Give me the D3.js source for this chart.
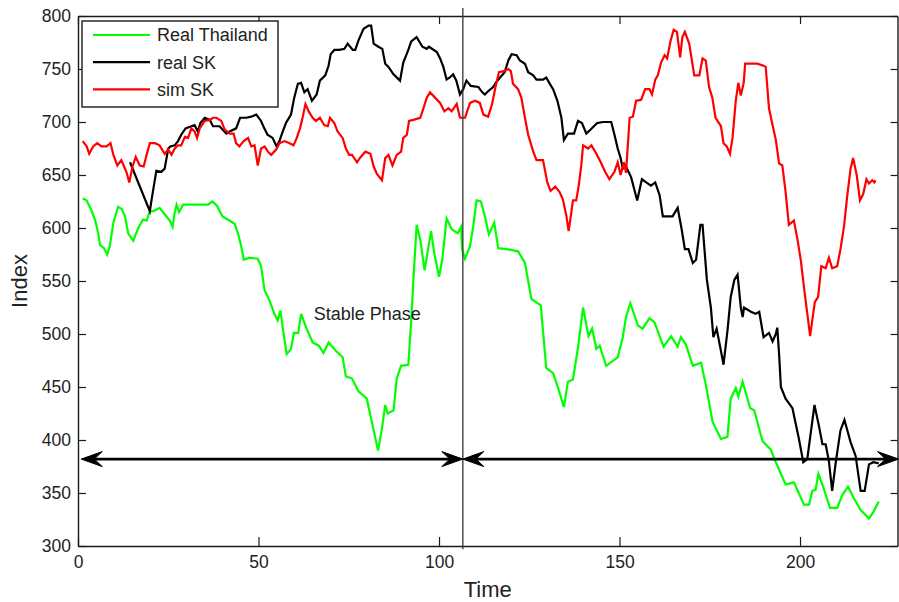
<!DOCTYPE html>
<html>
<head>
<meta charset="utf-8">
<script src="https://cdn.jsdelivr.net/npm/d3@7"></script>
<style>
  html, body { margin: 0; padding: 0; background: #fff; }
  svg { display: block; font-family: "Liberation Sans", Arial, Helvetica, sans-serif; }
</style>
</head>
<body>
<svg id="chart" width="899" height="602"></svg>
<script>
// ---------- data ----------
const seriesNames = ["Real Thailand", "real SK", "sim SK"];
const seriesColors = ["#00ff00", "#000000", "#ff0000"];

const thaiT = [1.3,2.4,3.8,4.7,5.6,6.1,7.2,8.1,8.8,9.8,11.1,12.1,13.0,13.9,15.3,16.7,18.0,19.0,19.9,21.0,22.6,24.0,25.4,26.2,26.8,27.3,28.0,29.1,31.9,33.7,36.0,37.2,38.5,40.0,41.5,43.4,44.3,45.2,45.9,47.5,49.8,50.7,51.7,53.0,54.4,55.3,56.1,56.7,57.8,59.0,59.8,61.0,61.8,63.2,65.0,66.7,68.0,69.4,71.5,73.3,74.2,75.1,75.9,77.7,80.0,81.4,83.1,84.2,85.1,85.8,87.4,88.3,89.5,91.5,92.3,92.9,93.8,94.8,96.0,97.8,98.7,100.0,100.9,102.1,103.5,105.2,106.1,106.4,107.2,108.6,109.5,110.4,111.6,112.7,113.8,115.3,116.4,118.7,121.9,123.8,125.6,128.2,128.8,129.7,131.6,133.0,134.6,135.7,137.1,138.5,139.9,141.4,142.4,143.6,144.5,146.3,149.5,150.9,151.8,153.0,155.1,156.4,158.3,159.7,162.2,164.3,166.1,167.0,168.4,170.3,172.6,173.9,175.8,178.1,179.9,180.8,182.2,182.9,184.1,186.2,187.3,189.6,191.9,193.3,196.0,198.3,201.1,202.5,203.4,204.3,205.1,206.2,208.3,210.3,211.7,213.3,214.9,216.8,219.1,220.3,221.8];
const thaiV = [628,626,616,608,595,584,581,575,583,605,620,618,611,595,588,600,608,607,616,616,619,613,607,601,615,622,615,622,622,622,622,625,621,611,608,604,595,583,570,572,571,564,541,532,519,513,522,506,481,486,501,501,519,506,492,489,482,492,484,478,460,459,458,446,439,417,390,411,433,425,428,458,470,471,513,551,603,589,560,597,576,554,570,609,599,595,601,580,571,583,602,626,625,611,594,605,581,580,578,567,533,527,503,468,463,449,431,455,457,487,525,498,505,486,489,470,478,497,516,529,508,505,515,511,488,498,488,497,490,470,473,452,417,401,403,439,449,441,455,430,428,399,391,379,358,360,339,339,352,353,368,358,336,336,348,356,345,334,326,332,342];

const skT = [14.4,19.9,20.4,21.7,23.1,24.0,25.0,25.6,26.8,27.7,28.6,29.8,31.4,32.3,33.2,33.9,35.1,36.5,37.4,39.2,41.1,42.0,43.8,44.9,46.6,48.0,49.4,50.7,51.6,52.5,53.9,55.0,55.8,56.5,57.6,59.0,59.9,60.9,61.8,62.7,63.6,64.8,66.1,67.0,68.5,69.4,70.0,71.0,72.4,73.8,74.7,76.1,76.8,77.7,79.1,80.5,81.2,81.9,83.2,84.3,85.1,86.0,87.4,89.2,90.1,91.5,92.3,93.8,95.4,96.6,97.2,99.4,100.3,101.2,102.1,103.0,103.9,104.8,105.8,106.7,107.6,108.8,110.9,112.0,112.7,113.6,115.0,115.7,116.9,118.2,119.2,120.1,121.5,122.4,123.8,124.7,126.1,127.0,128.8,129.7,130.7,131.6,132.8,133.9,134.6,135.7,137.4,138.5,139.6,140.8,142.0,143.8,145.4,147.7,148.6,149.5,150.3,150.9,151.8,153.2,154.9,156.2,157.4,158.7,159.9,161.1,162.0,164.7,166.1,167.2,168.1,169.1,170.3,171.2,172.4,173.0,174.2,175.3,176.0,176.9,178.1,178.8,179.9,180.8,181.8,182.7,183.6,184.1,184.5,186.4,187.7,188.7,189.9,191.4,192.4,193.3,193.7,194.2,194.7,196.0,197.9,199.7,200.9,202.0,204.0,205.2,206.2,207.1,208.0,208.9,209.9,211.2,212.3,214.0,215.4,216.8,217.9,219.1,220.3,221.8];
const skV = [662,616,627,654,653,656,675,677,678,682,688,694,696,697,691,699,704,702,696,696,689,691,694,704,704,705,707,701,694,688,685,677,682,689,699,707,723,736,737,728,731,720,726,739,744,753,764,768,768,769,774,768,768,777,788,791,791,774,771,769,755,752,745,739,756,768,776,780,771,769,771,766,760,752,740,742,745,739,726,731,739,734,733,728,726,729,733,737,742,747,758,764,763,758,755,747,744,740,740,742,736,731,720,704,683,689,689,701,699,689,693,699,700,700,688,675,666,656,658,648,626,646,643,640,643,631,611,611,619,599,580,580,567,570,603,603,551,525,497,505,484,471,503,535,551,556,525,516,525,521,519,521,497,501,493,500,506,481,450,439,430,401,379,382,433,414,396,396,380,352,379,409,419,398,385,352,352,377,379,378];

const simT = [1.3,2.4,3.1,4.2,5.3,6.5,7.9,9.0,9.8,10.9,12.0,13.4,14.2,15.1,16.0,17.1,18.2,19.0,19.9,21.3,22.6,24.0,25.0,25.9,26.8,27.7,28.6,29.6,30.5,31.4,32.3,33.0,33.7,35.1,36.5,37.4,38.3,39.7,40.6,42.0,43.1,43.8,44.7,45.9,47.1,48.0,48.9,49.8,50.7,51.7,52.6,53.5,54.9,55.8,57.2,58.6,59.7,60.6,61.5,62.2,63.0,63.9,65.0,65.9,67.0,68.2,69.2,69.8,71.0,71.9,73.3,74.2,75.1,75.9,77.3,78.3,79.6,81.0,81.9,82.8,84.2,85.1,86.0,87.1,88.3,89.5,90.1,91.1,91.7,92.9,94.8,95.7,96.6,97.5,98.9,100.3,101.5,102.6,103.5,104.9,105.8,107.2,108.6,110.0,111.3,112.3,113.6,114.7,115.7,116.6,118.0,119.2,119.9,120.5,121.9,122.8,123.8,124.7,126.1,127.0,128.8,130.0,130.9,132.2,133.4,134.3,135.3,135.9,136.5,137.1,138.0,138.7,139.4,139.9,141.3,142.2,143.6,144.8,146.0,147.2,148.6,149.5,150.3,151.2,151.8,152.8,153.7,154.6,156.0,157.1,158.3,159.0,159.9,160.6,161.5,162.5,163.2,164.1,165.0,165.9,166.8,167.4,168.1,169.3,170.7,172.1,173.0,173.9,174.8,175.7,176.6,178.1,178.8,179.7,180.6,181.3,182.2,182.9,183.6,184.4,184.8,186.4,188.2,189.9,190.5,191.4,192.4,193.3,194.2,195.1,196.0,196.9,198.3,199.3,200.2,201.1,201.8,202.8,203.4,204.1,205.0,205.9,207.1,208.0,208.9,210.3,211.2,212.2,213.1,214.0,214.7,215.7,216.6,217.5,218.4,219.1,220.0,220.6,220.9];
const simV = [682,677,670,677,680,677,677,680,669,659,664,653,643,658,667,659,658,669,680,680,678,670,674,669,675,678,678,686,685,694,691,685,694,701,702,704,704,701,693,689,689,680,677,682,685,677,678,659,675,677,672,669,674,680,682,680,678,685,694,704,717,710,704,701,704,697,696,704,699,691,685,675,669,669,662,667,672,670,658,651,645,666,669,659,669,672,685,688,701,702,704,713,723,728,723,718,710,713,710,717,704,704,718,720,718,707,705,717,734,747,748,750,748,736,731,723,704,688,672,664,664,643,635,639,634,627,611,597,611,626,626,640,659,678,675,678,670,662,653,646,653,662,650,662,652,704,705,720,721,731,731,726,740,744,756,763,760,776,787,785,761,780,785,774,744,744,760,758,733,723,704,696,680,677,670,685,720,737,725,737,755,755,755,753,752,713,697,683,661,659,634,603,607,589,570,544,525,498,513,530,535,564,562,572,562,564,580,602,631,656,666,650,626,632,646,642,645,643,645];

const seriesT = [thaiT, skT, simT];
const seriesV = [thaiV, skV, simV];

const xTicks = [0, 50, 100, 150, 200];
const yTicks = [300, 350, 400, 450, 500, 550, 600, 650, 700, 750, 800];
const xLabel = "Time";
const yLabel = "Index";
const phaseLabel = "Stable Phase";

// annotations (data coordinates)
const phaseBoundary = 106.6;
const arrowLevel = 382;
const arrowSpans = [[0.9, 106.6], [106.6, 227.3]];
const phaseLabelPos = [65.3, 513];

// ---------- chart ----------
const svg = d3.select("#chart");
const W = 899, H = 602;
const m = { left: 78, right: 1.5, top: 16, bottom: 56 };
svg.append("rect").attr("width", W).attr("height", H).attr("fill", "#fff");

const x = d3.scaleLinear().domain([0, 227]).range([m.left, W - m.right]);
const y = d3.scaleLinear().domain([300, 800]).range([H - m.bottom, m.top]);

const axisColor = "#1a1a1a";
const fs = "17.5px";

// axes
const gL = svg.append("g").attr("transform", `translate(${m.left},0)`)
  .call(d3.axisLeft(y).tickValues(yTicks).tickSizeInner(-8).tickSizeOuter(0).tickPadding(7));
const gB = svg.append("g").attr("transform", `translate(0,${H - m.bottom})`)
  .call(d3.axisBottom(x).tickValues(xTicks).tickSizeInner(-9).tickSizeOuter(0).tickPadding(10));
const gT = svg.append("g").attr("transform", `translate(0,${m.top})`)
  .call(d3.axisTop(x).tickValues(xTicks).tickSizeInner(-8).tickSizeOuter(0).tickFormat(""));
const gR = svg.append("g").attr("transform", `translate(${W - m.right},0)`)
  .call(d3.axisRight(y).tickValues(yTicks).tickSizeInner(-7).tickSizeOuter(0).tickFormat(""));
[gL, gB, gT, gR].forEach(g => {
  g.selectAll("path.domain").attr("stroke", axisColor).attr("stroke-width", 1.4);
  g.selectAll(".tick line").attr("stroke", axisColor).attr("stroke-width", 1.2);
  g.selectAll(".tick text").attr("fill", "#222").style("font-size", fs)
    .style("font-family", '"Liberation Sans", Arial, sans-serif');
});

// series lines
const clipId = "plotclip";
svg.append("clipPath").attr("id", clipId).append("rect")
  .attr("x", m.left).attr("y", m.top).attr("width", W - m.right - m.left).attr("height", H - m.bottom - m.top);
const line = d3.line().x(d => x(d[0])).y(d => y(d[1]));
const gLines = svg.append("g").attr("clip-path", `url(#${clipId})`);
seriesNames.forEach((name, i) => {
  const pts = seriesT[i].map((t, k) => [t, seriesV[i][k]]);
  gLines.append("path").datum(pts)
    .attr("d", line).attr("fill", "none")
    .attr("stroke", seriesColors[i]).attr("stroke-width", 2.2)
    .attr("stroke-linejoin", "miter");
});

// phase boundary vertical line
svg.append("line")
  .attr("x1", x(phaseBoundary)).attr("x2", x(phaseBoundary))
  .attr("y1", y(807.5)).attr("y2", y(297))
  .attr("stroke", "#333").attr("stroke-width", 1.3);

// double-headed arrows
const ay = y(arrowLevel);
function head(tipX, dir) {
  // dir: -1 pointing left, +1 pointing right
  const L = 21, Wd = 7.5, notch = 13;
  const p = d3.path();
  p.moveTo(tipX, ay);
  p.lineTo(tipX - dir * L, ay - Wd);
  p.lineTo(tipX - dir * notch, ay);
  p.lineTo(tipX - dir * L, ay + Wd);
  p.closePath();
  return p.toString();
}
arrowSpans.forEach(([a, b]) => {
  svg.append("line").attr("x1", x(a) + 4).attr("x2", x(b) - 4)
    .attr("y1", ay).attr("y2", ay).attr("stroke", "#000").attr("stroke-width", 2.8);
  svg.append("path").attr("d", head(x(a), -1)).attr("fill", "#000").attr("stroke", "#000").attr("stroke-width", 1);
  svg.append("path").attr("d", head(x(b), 1)).attr("fill", "#000").attr("stroke", "#000").attr("stroke-width", 1);
});

// Stable Phase label
svg.append("text").attr("x", x(phaseLabelPos[0])).attr("y", y(phaseLabelPos[1]))
  .attr("fill", "#222").style("font-size", "18px").text(phaseLabel);

// axis labels
svg.append("text").attr("x", (m.left + W - m.right) / 2).attr("y", 597)
  .attr("text-anchor", "middle").attr("fill", "#222").style("font-size", "22px").text(xLabel);
svg.append("text").attr("transform", `translate(27,${(m.top + H - m.bottom) / 2}) rotate(-90)`)
  .attr("text-anchor", "middle").attr("fill", "#222").style("font-size", "22px").text(yLabel);

// legend
const lg = svg.append("g");
lg.append("rect").attr("x", 82).attr("y", 21).attr("width", 196).attr("height", 86)
  .attr("fill", "#fff").attr("stroke", axisColor).attr("stroke-width", 1.4);
seriesNames.forEach((name, i) => {
  const ly = 35 + i * 27.2;
  lg.append("line").attr("x1", 93).attr("x2", 150).attr("y1", ly).attr("y2", ly)
    .attr("stroke", seriesColors[i]).attr("stroke-width", 2.2);
  lg.append("text").attr("x", 157).attr("y", ly).attr("dy", "0.35em")
    .attr("fill", "#222").style("font-size", "18px").text(name);
});
</script>
</body>
</html>
